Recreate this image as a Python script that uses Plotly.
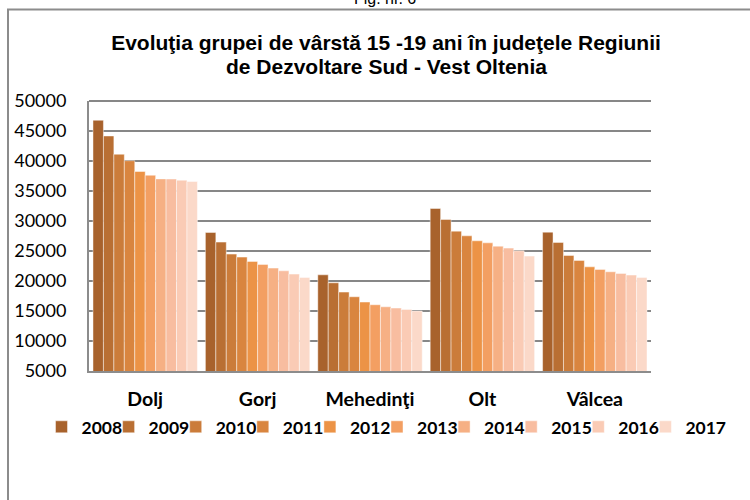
import plotly.graph_objects as go

counties = ["Dolj", "Gorj", "Mehedinţi", "Olt", "Vâlcea"]
years = ["2008", "2009", "2010", "2011", "2012", "2013", "2014", "2015", "2016", "2017"]

# values per year, in county order
values = {
    "2008": [46790, 28090, 21030, 32090, 28140],
    "2009": [44170, 26480, 19700, 30260, 26430],
    "2010": [41130, 24480, 18150, 28310, 24260],
    "2011": [40050, 23980, 17370, 27530, 23430],
    "2012": [38250, 23270, 16490, 26700, 22360],
    "2013": [37630, 22770, 16040, 26360, 21930],
    "2014": [37020, 22150, 15700, 25810, 21540],
    "2015": [37000, 21700, 15490, 25480, 21270],
    "2016": [36800, 21150, 15270, 25030, 20990],
    "2017": [36580, 20600, 15000, 24150, 20600],
}

colors = ["#A8622C", "#B96F33", "#CB7C3A", "#D9853F", "#EC9346",
          "#F39F62", "#F6B084", "#F8BDA0", "#FACBB5", "#FBD9C9"]

yticks = [5000, 10000, 15000, 20000, 25000, 30000, 35000, 40000, 45000, 50000]

W, H = 750, 500
L, R, T, B = 89, 651, 100.7, 371
pw, ph = R - L, B - T

def px2paper_x(px):
    return (px - L) / pw

def px2paper_y(py):
    return (B - py) / ph

leg_font = dict(family="Lato, Calibri, sans-serif", size=17.5, color="black", weight="bold")
pitch = 67.1
sq0 = 55.5          # left edge of the first legend square (px)
sym_off = 14        # symbol left offset inside a plotly legend item
leg_y = 427

fig = go.Figure()
legends = {}
for i, (yr, col) in enumerate(zip(years, colors)):
    lname = "legend" if i == 0 else f"legend{i + 1}"
    fig.add_trace(go.Bar(
        name=yr, x=counties, y=values[yr],
        marker=dict(color=col, line=dict(color="rgba(255,255,255,0.45)", width=1)),
        legend=lname,
    ))
    legends[lname] = dict(
        orientation="h", x=px2paper_x(sq0 + i * pitch - sym_off), xanchor="left",
        y=px2paper_y(leg_y), yanchor="middle",
        font=leg_font, itemwidth=30, bgcolor="rgba(0,0,0,0)",
    )

fig.update_layout(
    width=W, height=H,
    margin=dict(l=L, r=W - R, t=T, b=H - B, pad=0),
    paper_bgcolor="white", plot_bgcolor="white",
    barmode="group", bargap=0.071, bargroupgap=0,
    font=dict(family="Lato, Calibri, sans-serif", size=14, color="black"),
    title=dict(
        text="Evoluţia grupei de vârstă 15 -19 ani în judeţele Regiunii",
        font=dict(family="Liberation Sans, Arial, sans-serif", size=21, color="black", weight="bold"),
        x=386 / W, xanchor="center", xref="container",
        y=1 - 43 / H, yanchor="middle", yref="container",
    ),
    showlegend=True,
    xaxis=dict(
        showgrid=False, showline=True, linecolor="#8c8c8c", linewidth=2,
        ticks="", tickfont=dict(family="Lato, Calibri, sans-serif", size=19.5, color="black", weight="bold"),
        ticklabelstandoff=10,
    ),
    yaxis=dict(
        range=[5000, 50000], tickvals=yticks, ticktext=[str(v) for v in yticks],
        showgrid=True, gridcolor="#878787", gridwidth=1.8,
        showline=True, linecolor="#8c8c8c", linewidth=2,
        ticks="", ticklabelstandoff=17,
        tickfont=dict(family="Lato, Calibri, sans-serif", size=18, color="black"),
        zeroline=False,
    ),
    shapes=[
        dict(type="rect", xref="paper", yref="paper",
             x0=px2paper_x(8), x1=px2paper_x(800), y0=px2paper_y(560), y1=px2paper_y(9),
             line=dict(color="#8c8c8c", width=2), fillcolor="rgba(0,0,0,0)", layer="below"),
        dict(type="line", xref="paper", yref="paper",
             x0=0, x1=1, y0=1, y1=1, line=dict(color="#878787", width=1.8)),
    ],
    annotations=[
        dict(text="de Dezvoltare Sud - Vest Oltenia", xref="paper", yref="paper",
             x=px2paper_x(386), y=px2paper_y(66), xanchor="center", yanchor="middle",
             showarrow=False,
             font=dict(family="Liberation Sans, Arial, sans-serif", size=21, color="black", weight="bold")),
        dict(text="Fig. nr. 6", xref="paper", yref="paper",
             x=px2paper_x(385), y=px2paper_y(9), xanchor="center", yanchor="bottom",
             showarrow=False, font=dict(family="Liberation Sans, Arial, sans-serif", size=16, color="black")),
    ],
    **legends,
)

fig.write_html("out.html", config={"displayModeBar": False},
               post_script="document.body.style.margin='0';")
